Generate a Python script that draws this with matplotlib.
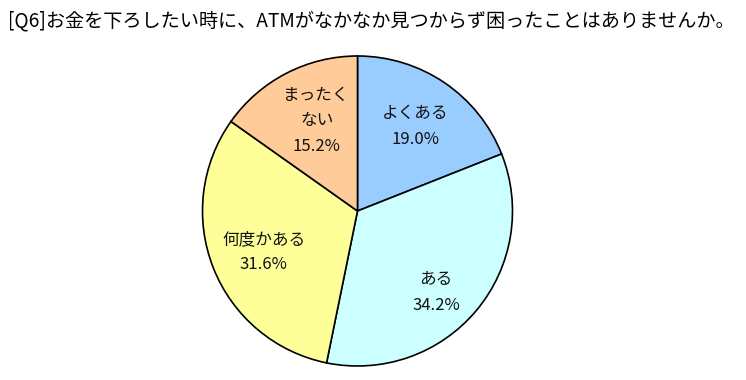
import numpy as np
import matplotlib
matplotlib.use('Agg')
import matplotlib.pyplot as plt

plt.rcParams['font.family'] = ['Noto Sans CJK JP', 'DejaVu Sans']

title = '[Q6]お金を下ろしたい時に、ATMがなかなか見つからず困ったことはありませんか。'
labels = ['よくある', 'ある', '何度かある', 'まったく\nない']
values = [19.0, 34.2, 31.6, 15.2]
colors = ['#99CCFF', '#CCFFFF', '#FFFF99', '#FFCC99']

W, H = 746, 380
fig = plt.figure(figsize=(W / 100, H / 100), dpi=100)
ax = fig.add_axes([0, 0, 1, 1])

cx, cy, r = 357.5, H - 211, 155
wedges, _ = ax.pie(values, colors=colors, startangle=90, counterclock=False,
                   center=(cx, cy), radius=r, frame=True,
                   wedgeprops=dict(edgecolor='black', linewidth=1.2))
ax.set_xlim(0, W)
ax.set_ylim(0, H)
ax.set_aspect('equal')
ax.axis('off')

# label placement: fraction of radius and angle tweak (deg) per slice
dist = [0.66, 0.73, 0.66, 0.64]
turn = [0, -6, 2, -3]
for w, lab, v, d, t in zip(wedges, labels, values, dist, turn):
    mid = np.deg2rad((w.theta1 + w.theta2) / 2 + t)
    x = cx + d * r * np.cos(mid)
    y = cy + d * r * np.sin(mid)
    ax.text(x, y, f'{lab}\n{v:.1f}%', ha='center', va='center',
            fontsize=12, linespacing=1.65, color='#111111')

fig.text(8 / W, 1 - 21 / H, title, ha='left', va='center', fontsize=13.8)

fig.savefig('out.png', dpi=100, facecolor='white')
